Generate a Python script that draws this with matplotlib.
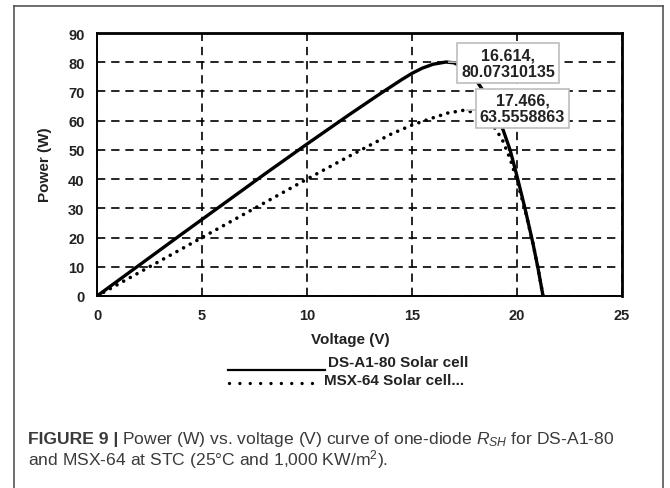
#!/usr/bin/env python3
"""Power vs voltage curves of DS-A1-80 and MSX-64 solar cells (one-diode R_SH model)."""

import matplotlib
matplotlib.use("Agg")
import matplotlib.pyplot as plt
from matplotlib.lines import Line2D

plt.rcParams["font.family"] = ["Liberation Sans", "DejaVu Sans"]
plt.rcParams["mathtext.fontset"] = "custom"
plt.rcParams["mathtext.rm"] = "Liberation Sans"
plt.rcParams["mathtext.it"] = "Liberation Sans:italic"

# DS-A1-80 (solid)
v_ds = [0, 2, 4, 6, 8, 10, 12, 13.5, 14.5, 15, 15.5, 16.0, 16.614, 17.0, 17.5, 18.0,
        18.5, 19.0, 19.33, 19.67, 20.0, 20.38, 20.76, 21.0, 21.24]
p_ds = [0, 10.5, 21.0, 31.4, 41.8, 52.0, 62.0, 69.3, 74.0, 76.2, 78.0, 79.3, 80.07, 79.8, 78.0, 74.5,
        69.0, 62.0, 57.0, 50.0, 41.0, 30.0, 18.0, 9.5, 0]

# MSX-64 (dotted)
v_msx = [0, 2, 4, 6, 8, 10, 12, 13, 14, 15, 15.8, 16.7, 17.466, 18.0, 18.5, 19.0,
         19.33, 19.67, 20.0, 20.38, 20.76, 21.0, 21.24]
p_msx = [0, 8.0, 16.0, 24.0, 32.0, 40.0, 47.8, 51.6, 55.4, 58.5, 60.5, 62.6, 63.56, 62.8, 61.0, 57.0,
         53.0, 47.0, 39.5, 29.5, 18.0, 9.5, 0]

peak_ds = (16.614, 80.07310135)
peak_msx = (17.466, 63.5558863)
peak_ds_label = "16.614,\n80.07310135"
peak_msx_label = "17.466,\n63.5558863"

x_ticks = [0, 5, 10, 15, 20, 25]
y_ticks = [0, 10, 20, 30, 40, 50, 60, 70, 80, 90]

W, H = 670, 489
fig = plt.figure(figsize=(6.7, 4.89), dpi=100)


def fx(px):
    return px / W


def fy(py):
    return 1 - py / H


ax = fig.add_axes([fx(97), fy(297), fx(622) - fx(97), fy(34) - fy(297)])

ax.plot(v_ds, p_ds, color="black", lw=2.4, solid_capstyle="round", zorder=3)
ax.plot(v_msx, p_msx, color="black", lw=2.6, linestyle=(0, (0.01, 2.1)),
        dash_capstyle="round", zorder=3)

ax.set_xlim(0, 25)
ax.set_ylim(0, 90)
ax.set_xticks(x_ticks)
ax.set_yticks(y_ticks)
ax.tick_params(length=0, labelsize=10.5, pad=9)
for lab in ax.get_xticklabels() + ax.get_yticklabels():
    lab.set_fontweight("bold")
    lab.set_color("#222222")
ax.grid(True, color="black", linestyle=(0, (5, 3.5)), lw=1.2, zorder=1)
for s in ax.spines.values():
    s.set_color("black")
    s.set_linewidth(1.4)
ax.spines["top"].set_linewidth(2)
ax.spines["right"].set_linewidth(2)

box = dict(boxstyle="square,pad=0.25", fc="white", ec="#bdbdbd", lw=1.2)
ax.annotate(peak_ds_label, xy=peak_ds, xytext=(19.57, 79.6), ha="center", va="center",
            fontsize=11.5, fontweight="bold", color="#222222", linespacing=1.15, bbox=box,
            arrowprops=dict(arrowstyle="-", color="#bdbdbd", lw=1.2, shrinkA=0, shrinkB=2),
            zorder=5)
ax.annotate(peak_msx_label, xy=peak_msx, xytext=(20.26, 64.2), ha="center", va="center",
            fontsize=11.5, fontweight="bold", color="#222222", linespacing=1.15, bbox=box,
            arrowprops=dict(arrowstyle="-", color="#bdbdbd", lw=1.2, shrinkA=0, shrinkB=2),
            zorder=5)

fig.text(fx(45), fy(165), "Power (W)", rotation=90, ha="center", va="center",
         fontsize=11, fontweight="bold", color="#222222")
fig.text(fx(350), fy(340), "Voltage (V)", ha="center", va="center",
         fontsize=11, fontweight="bold", color="#222222")

# legend written under the axis
fig.add_artist(Line2D([fx(228), fx(325)], [fy(371), fy(371)], color="black", lw=1.6))
fig.text(fx(328), fy(363), "DS-A1-80 Solar cell", ha="left", va="center",
         fontsize=11, fontweight="bold", color="#222222")
fig.add_artist(Line2D([fx(229), fx(318)], [fy(384), fy(384)], color="black", lw=2.4,
                      linestyle=(0, (0.01, 3.1)), dash_capstyle="round"))
fig.text(fx(324), fy(381), "MSX-64 Solar cell...", ha="left", va="center",
         fontsize=11, fontweight="bold", color="#222222")

# outer frame
frame_kw = dict(color="#555555", lw=1.2)
fig.add_artist(Line2D([fx(14), fx(663)], [fy(7), fy(7)], **frame_kw))
fig.add_artist(Line2D([fx(14), fx(14)], [fy(7), 0], **frame_kw))
fig.add_artist(Line2D([fx(663), fx(663)], [fy(7), 0], **frame_kw))

# caption
cap_kw = dict(fontsize=12.6, color="#3a3a3a", va="center", ha="left")
t1 = fig.text(fx(28), fy(440), "FIGURE 9 |", fontweight="bold", **cap_kw)
fig.canvas.draw()
bb = t1.get_window_extent()
fig.text(bb.x1 / W + fx(4), fy(440),
         r"Power (W) vs. voltage (V) curve of one-diode $R_{SH}$ for DS-A1-80", **cap_kw)
fig.text(fx(28), fy(460), r"and MSX-64 at STC (25°C and 1,000 KW/m$^2$).", **cap_kw)

fig.savefig("out.png", dpi=100)
print("Saved out.png")
